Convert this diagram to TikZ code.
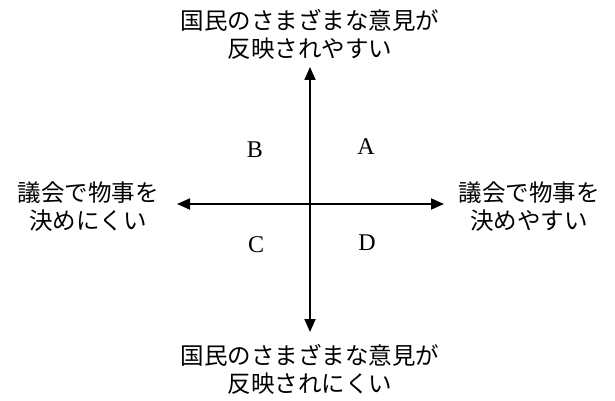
\documentclass[tikz,border=0pt]{standalone}
\usepackage{fontspec}
\setmainfont{Liberation Serif}
\newfontfamily\cjk{Noto Sans CJK JP}
\usetikzlibrary{arrows.meta}
\begin{document}
\begin{tikzpicture}[x=1pt,y=-1pt,
  axis/.style={line width=1.8pt,-{Triangle[length=13pt,width=11pt]}},
  jlabel/.style={font=\cjk\fontsize{23.5}{28}\selectfont,align=center,inner sep=0pt},
  qlabel/.style={font=\fontsize{24}{26}\selectfont,inner sep=0pt}]
\useasboundingbox (0,0) rectangle (615,401);
\coordinate (O) at (310,204);
\coordinate (T) at (310,67);
\coordinate (Bt) at (310,332);
\coordinate (L) at (177,204);
\coordinate (R) at (444,204);
\draw[axis] (O) -- (T);
\draw[axis] (O) -- (Bt);
\draw[axis] (O) -- (L);
\draw[axis] (O) -- (R);
\node[jlabel] (top) at (310,34) {国民のさまざまな意見が\\反映されやすい};
\node[jlabel] (bottom) at (310,369) {国民のさまざまな意見が\\反映されにくい};
\node[jlabel] (left) at (88,207) {議会で物事を\\決めにくい};
\node[jlabel] (right) at (529,207) {議会で物事を\\決めやすい};
\node[qlabel] (qb) at (255,150) {B};
\node[qlabel] (qa) at (366,147) {A};
\node[qlabel] (qc) at (256,245) {C};
\node[qlabel] (qd) at (367,243) {D};
\end{tikzpicture}
\end{document}
